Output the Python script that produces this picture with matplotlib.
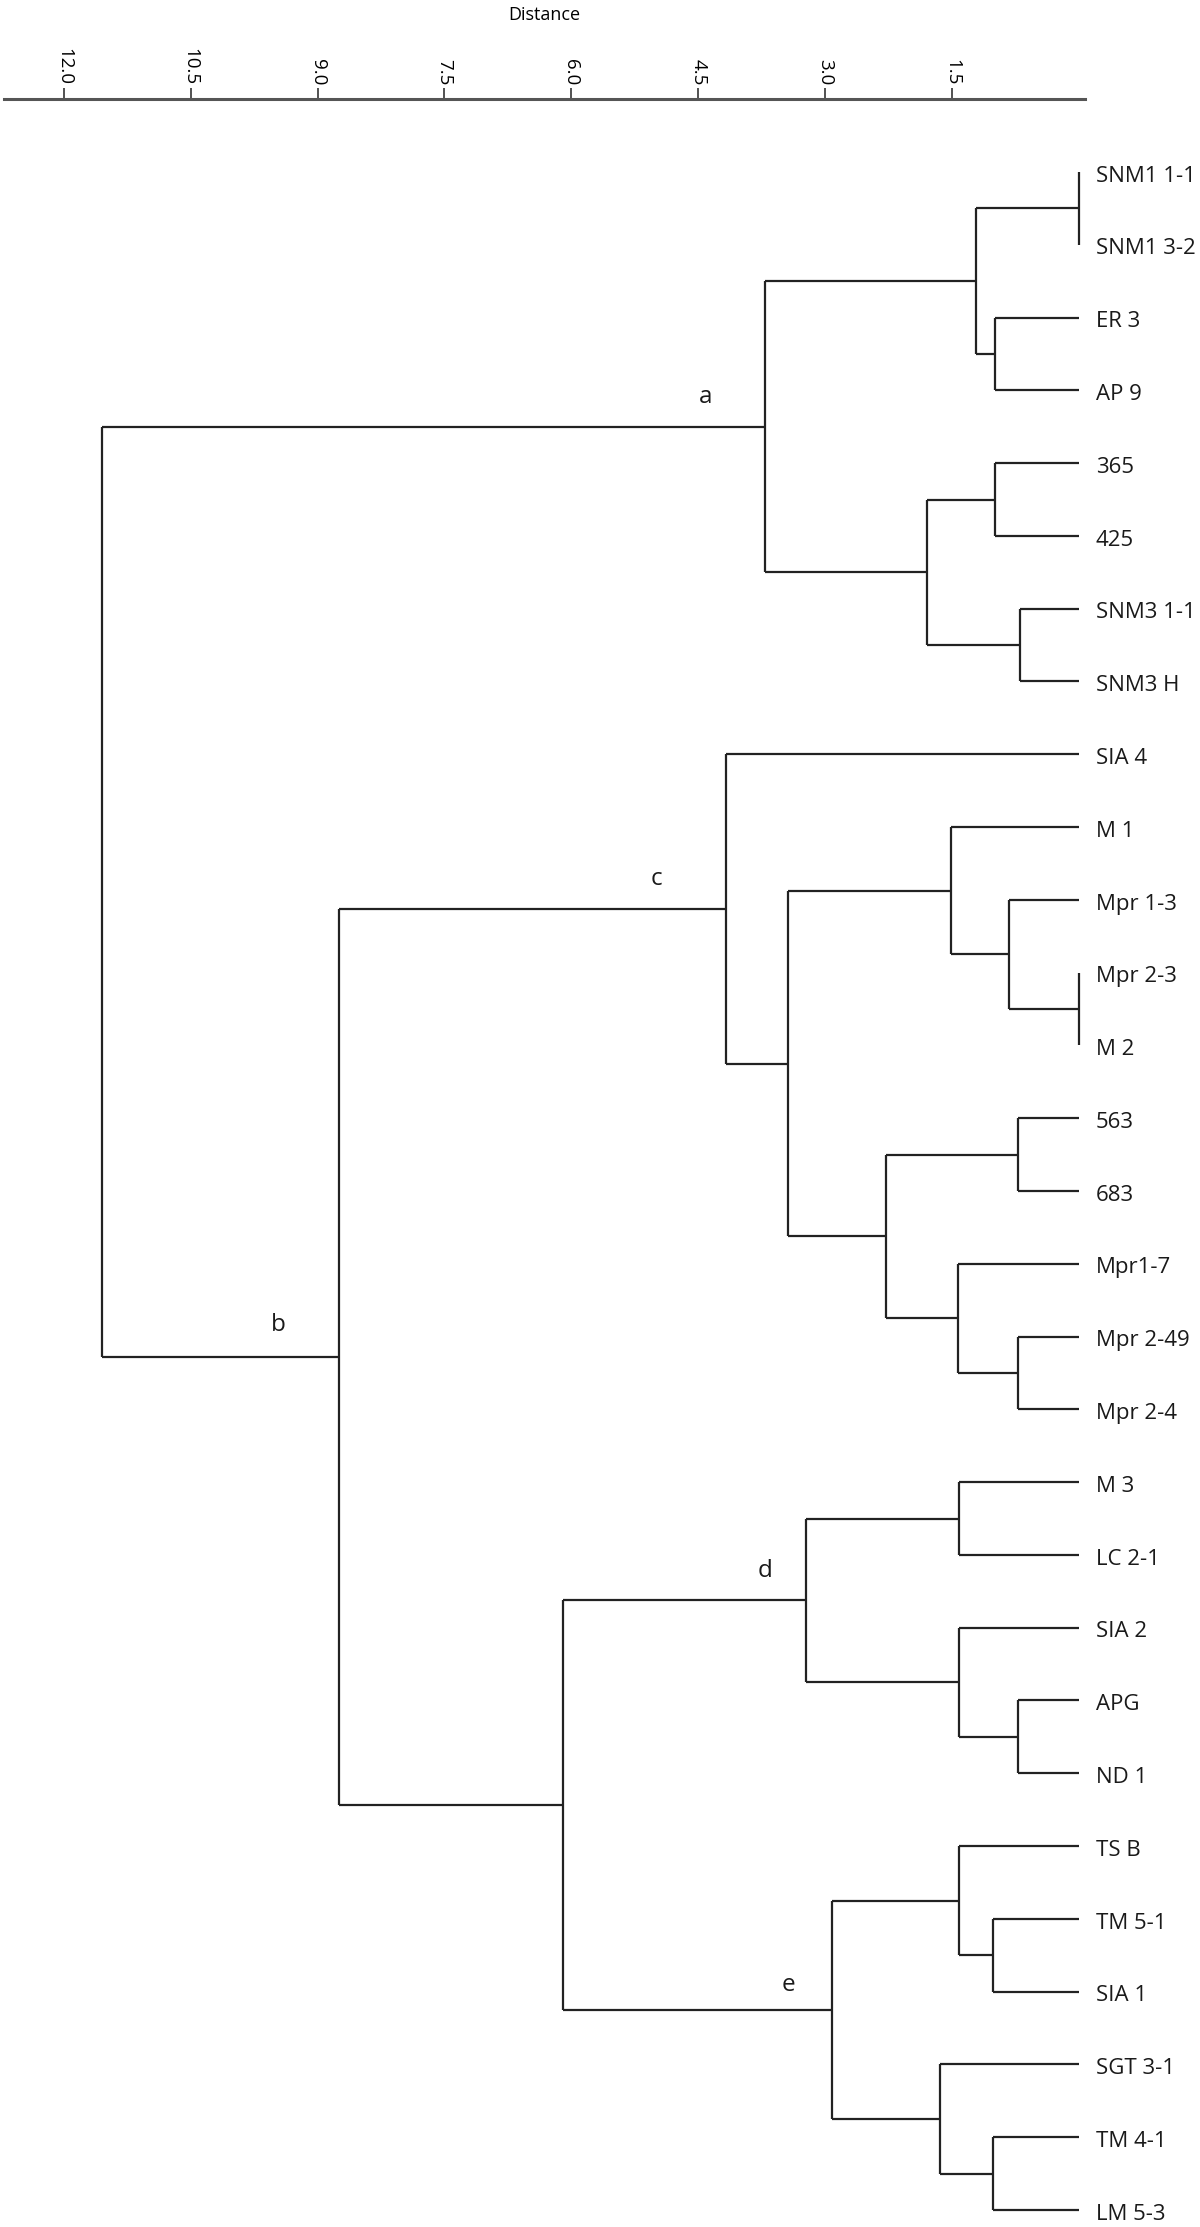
import matplotlib
matplotlib.use("Agg")
import matplotlib.pyplot as plt
import numpy as np

plt.rcParams['font.family'] = ['Open Sans', 'DejaVu Sans']

# --- leaves, top to bottom ---
leaves = ['SNM1 1-1', 'SNM1 3-2', 'ER 3', 'AP 9', '365', '425', 'SNM3 1-1', 'SNM3 H',
          'SIA 4', 'M 1', 'Mpr 1-3', 'Mpr 2-3', 'M 2', '563', '683', 'Mpr1-7',
          'Mpr 2-49', 'Mpr 2-4', 'M 3', 'LC 2-1', 'SIA 2', 'APG', 'ND 1', 'TS B',
          'TM 5-1', 'SIA 1', 'SGT 3-1', 'TM 4-1', 'LM 5-3']

# --- linkage: (child1, child2, distance); ids >= len(leaves) are earlier merges ---
merge_left = [0, 2, 29, 4, 6, 32, 31, 11, 10, 9, 13, 16, 15, 39, 38, 8,
              18, 21, 20, 45, 24, 23, 27, 26, 50, 48, 44, 35]
merge_right = [1, 3, 30, 5, 7, 33, 34, 12, 36, 37, 14, 17, 40, 41, 42, 43,
               19, 22, 46, 47, 25, 49, 28, 51, 52, 53, 54, 55]
merge_dist = [0.0, 0.99, 1.22, 0.99, 0.70, 1.80, 3.71, 0.0, 0.83, 1.51, 0.72, 0.72,
              1.43, 2.28, 3.44, 4.17, 1.42, 0.72, 1.42, 3.23, 1.02, 1.42, 1.02, 1.64,
              2.92, 6.10, 8.75, 11.55]

# cluster letters -> merge id
cluster_names = {'a': 35, 'b': 55, 'c': 44, 'd': 48, 'e': 53}

ticks = [12.0, 10.5, 9.0, 7.5, 6.0, 4.5, 3.0, 1.5]

n = len(leaves)
ypos = {i: float(i) for i in range(n)}
xpos = {i: 0.0 for i in range(n)}

# pixel layout of the plot area
px_unit = 84.6      # pixels per distance unit
zero_px = 1079      # x pixel of distance 0
fig = plt.figure(figsize=(12, 22.27), dpi=100)
ax = fig.add_axes([4 / 1200, 0.0, 1081 / 1200, 1 - 99 / 2227])

line_kw = dict(color='#222222', lw=1.6, solid_capstyle='butt')
for k, (l, r, d) in enumerate(zip(merge_left, merge_right, merge_dist)):
    node = n + k
    ax.plot([xpos[l], d], [ypos[l], ypos[l]], **line_kw)
    ax.plot([xpos[r], d], [ypos[r], ypos[r]], **line_kw)
    ax.plot([d, d], [ypos[l], ypos[r]], **line_kw)
    xpos[node] = d
    ypos[node] = (ypos[l] + ypos[r]) / 2

for i, name in enumerate(leaves):
    ax.annotate(name, (0, ypos[i]), xytext=(12, -3), textcoords='offset points',
                ha='left', va='center', fontsize=16, color='#1a1a1a')

# letter offsets in pixels (left, up)
letter_off = {'a': (-60, 30), 'b': (-60, 32), 'c': (-70, 30), 'd': (-41, 29), 'e': (-44, 25)}
for lab, node in cluster_names.items():
    dx, dy = letter_off[lab]
    ax.annotate(lab, (xpos[node], ypos[node]), xytext=(dx * 0.72, dy * 0.72),
                textcoords='offset points', ha='center', va='center',
                fontsize=17.5, color='#1a1a1a')

ax.set_xlim((zero_px - 4) / px_unit, (zero_px - 1085) / px_unit)
ax.set_ylim(n - 1 + 17 / 72.8, -73 / 72.8)

for s in ['bottom', 'left', 'right']:
    ax.spines[s].set_visible(False)
ax.spines['top'].set_color('#555555')
ax.spines['top'].set_linewidth(2.2)
ax.xaxis.tick_top()
ax.xaxis.set_label_position('top')
ax.set_xticks(ticks)
ax.set_xticklabels([f'{t:.1f}' for t in ticks], rotation=270, fontsize=13.5)
ax.tick_params(axis='x', direction='out', length=8, width=1.2, color='#333333', pad=2)
ax.set_yticks([])
ax.set_xlabel('Distance', fontsize=13, labelpad=20)

fig.savefig('out.png', dpi=100)
